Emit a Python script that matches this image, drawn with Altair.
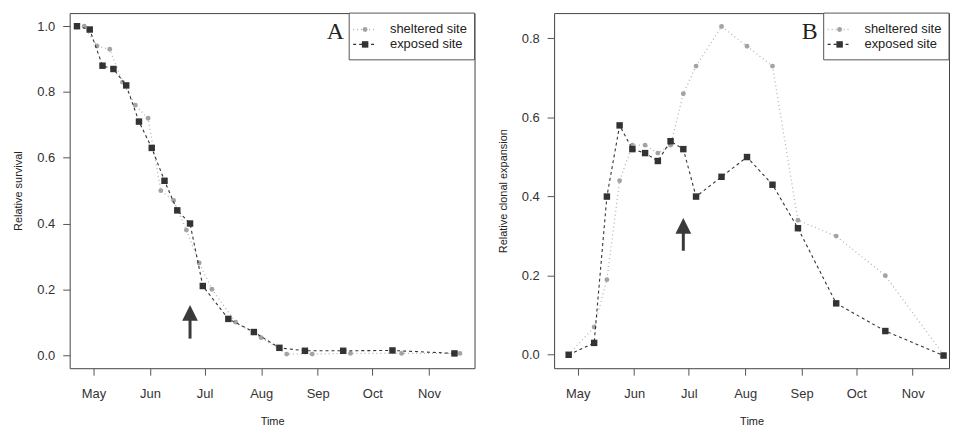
import altair as alt
import pandas as pd

YEAR = 2010

# ---------------- Panel A: relative survival ----------------
a_shel_dates = ["04-26", "05-03", "05-10", "05-17", "05-24", "05-31", "06-07", "06-14", "06-21",
                "06-28", "07-05", "07-18", "08-01", "08-15", "08-29", "09-19", "10-17", "11-18"]
a_shel_vals = [1.00, 0.94, 0.93, 0.83, 0.76, 0.72, 0.50, 0.47, 0.38,
               0.28, 0.20, 0.10, 0.053, 0.003, 0.003, 0.005, 0.005, 0.005]
a_exp_dates = ["04-22", "04-29", "05-06", "05-12", "05-19", "05-26", "06-02", "06-09", "06-16",
               "06-23", "06-30", "07-14", "07-28", "08-11", "08-25", "09-15", "10-12", "11-15"]
a_exp_vals = [1.00, 0.99, 0.88, 0.87, 0.82, 0.71, 0.63, 0.53, 0.44,
              0.40, 0.21, 0.11, 0.07, 0.022, 0.013, 0.013, 0.014, 0.005]

# ---------------- Panel B: relative clonal expansion ----------------
b_dates = ["04-26", "05-10", "05-17", "05-24", "05-31", "06-07", "06-14", "06-21", "06-28",
           "07-05", "07-19", "08-02", "08-16", "08-30", "09-20", "10-17", "11-18"]
b_shel_vals = [0.0, 0.07, 0.19, 0.44, 0.53, 0.53, 0.51, 0.53, 0.66,
               0.73, 0.83, 0.78, 0.73, 0.34, 0.30, 0.20, 0.0]
b_exp_vals = [0.0, 0.03, 0.40, 0.58, 0.52, 0.51, 0.49, 0.54, 0.52,
              0.40, 0.45, 0.50, 0.43, 0.32, 0.13, 0.06, -0.002]

# arrows (date, tail value, neck value, head-centre value)
arrow_a = ("06-23", 0.05, 0.11, 0.128)
arrow_b = ("06-28", 0.263, 0.31, 0.326)

legend_labels = ["sheltered site", "exposed site"]
month_ticks = [5, 6, 7, 8, 9, 10, 11]

SHEL_COL = "#a3a3a3"
SHEL_LINE = "#b3b3b3"
EXP_COL = "#333333"
FONT = "Liberation Sans"


def ts(d):
    return f"{YEAR}-{d}T00:00:00"


def panel(shel_dates, shel_vals, exp_dates, exp_vals, arrow, letter, ytitle,
          xdom, ydom, yvals, W, H):
    shel = pd.DataFrame({"date": [ts(d) for d in shel_dates], "v": shel_vals})
    exp = pd.DataFrame({"date": [ts(d) for d in exp_dates], "v": exp_vals})
    arr = pd.DataFrame({"date": [ts(arrow[0])], "tail": [arrow[1]],
                        "neck": [arrow[2]], "head": [arrow[3]]})
    one = pd.DataFrame({"k": [0]})

    x = alt.X("date:T", title="Time",
              scale=alt.Scale(domain=[alt.DateTime(year=YEAR, month=xdom[0][0], date=xdom[0][1]),
                                      alt.DateTime(year=YEAR, month=xdom[1][0], date=xdom[1][1])]),
              axis=alt.Axis(values=[alt.DateTime(year=YEAR, month=m, date=1) for m in month_ticks],
                            format="%b", formatType="time", labelPadding=12,
                            titlePadding=16))
    y = alt.Y("v:Q", title=ytitle,
              scale=alt.Scale(domain=ydom, nice=False, zero=False),
              axis=alt.Axis(values=yvals, format=".1f", labelPadding=8, titlePadding=13))

    shel_line = alt.Chart(shel).mark_line(color=SHEL_LINE, strokeDash=[1, 3], strokeWidth=1.3).encode(x=x, y=y)
    shel_pts = alt.Chart(shel).mark_circle(color=SHEL_COL, size=24, opacity=1).encode(x=x, y=y)
    exp_line = alt.Chart(exp).mark_line(color=EXP_COL, strokeDash=[3, 3], strokeWidth=1.1).encode(x=x, y=y)
    exp_pts = alt.Chart(exp).mark_square(color=EXP_COL, size=42, opacity=1).encode(x=x, y=y)

    shaft = alt.Chart(arr).mark_rule(color="#3a3a3a", strokeWidth=3).encode(
        x="date:T", y="tail:Q", y2="neck:Q")
    head = alt.Chart(arr).mark_point(shape="M0,-1L1,1L-1,1Z", size=250, filled=True,
                                     color="#3a3a3a", opacity=1).encode(x="date:T", y="head:Q")

    bx0 = W - 126
    box = alt.Chart(one).mark_rect(fill="white", stroke="#555555", strokeWidth=1).encode(
        x=alt.value(bx0), x2=alt.value(W), y=alt.value(0), y2=alt.value(47))
    r1, r2 = 16.5, 31.5
    lg_l1 = alt.Chart(one).mark_rule(color=SHEL_LINE, strokeDash=[1, 3], strokeWidth=1.3).encode(
        x=alt.value(bx0 + 4), x2=alt.value(bx0 + 27), y=alt.value(r1))
    lg_l2 = alt.Chart(one).mark_rule(color=EXP_COL, strokeDash=[3, 3], strokeWidth=1.1).encode(
        x=alt.value(bx0 + 4), x2=alt.value(bx0 + 27), y=alt.value(r2))
    lg_p1 = alt.Chart(one).mark_circle(color=SHEL_COL, size=24, opacity=1).encode(
        x=alt.value(bx0 + 16), y=alt.value(r1))
    lg_p2 = alt.Chart(one).mark_square(color=EXP_COL, size=42, opacity=1).encode(
        x=alt.value(bx0 + 16), y=alt.value(r2))
    lg_t1 = alt.Chart(one).mark_text(text=legend_labels[0], align="left", baseline="middle",
                                     font=FONT, fontSize=13, color="#222222").encode(
        x=alt.value(bx0 + 41), y=alt.value(r1))
    lg_t2 = alt.Chart(one).mark_text(text=legend_labels[1], align="left", baseline="middle",
                                     font=FONT, fontSize=13, color="#222222").encode(
        x=alt.value(bx0 + 41), y=alt.value(r2))
    lbl = alt.Chart(one).mark_text(text=letter, align="center", baseline="alphabetic",
                                   font="Liberation Serif", fontSize=24, color="#222222").encode(
        x=alt.value(bx0 - 14), y=alt.value(26))

    return alt.layer(shel_line, shel_pts, exp_line, exp_pts, shaft, head,
                     box, lg_l1, lg_l2, lg_p1, lg_p2, lg_t1, lg_t2, lbl).properties(width=W, height=H)


chart_a = panel(a_shel_dates, a_shel_vals, a_exp_dates, a_exp_vals, arrow_a, "A",
                "Relative survival", ((4, 18), (11, 26)), [-0.04, 1.04],
                [0.0, 0.2, 0.4, 0.6, 0.8, 1.0], 407, 357)
chart_b = panel(b_dates, b_shel_vals, b_dates, b_exp_vals, arrow_b, "B",
                "Relative clonal expansion", ((4, 18), (11, 21)), [-0.034, 0.864],
                [0.0, 0.2, 0.4, 0.6, 0.8], 397, 357)

chart = alt.hconcat(chart_a, chart_b, spacing=21).properties(
    padding={"left": 4, "top": 3, "right": 2, "bottom": 0}
).configure_view(
    stroke="#444444", strokeWidth=1
).configure_axis(
    domain=False, grid=False, tickColor="#555555", tickSize=7, tickWidth=1,
    labelFont=FONT, labelFontSize=13, labelColor="#333333",
    titleFont=FONT, titleFontSize=11, titleFontWeight="normal", titleColor="#222222"
)

chart.save("out.html", embed_options={"renderer": "svg", "actions": False})
